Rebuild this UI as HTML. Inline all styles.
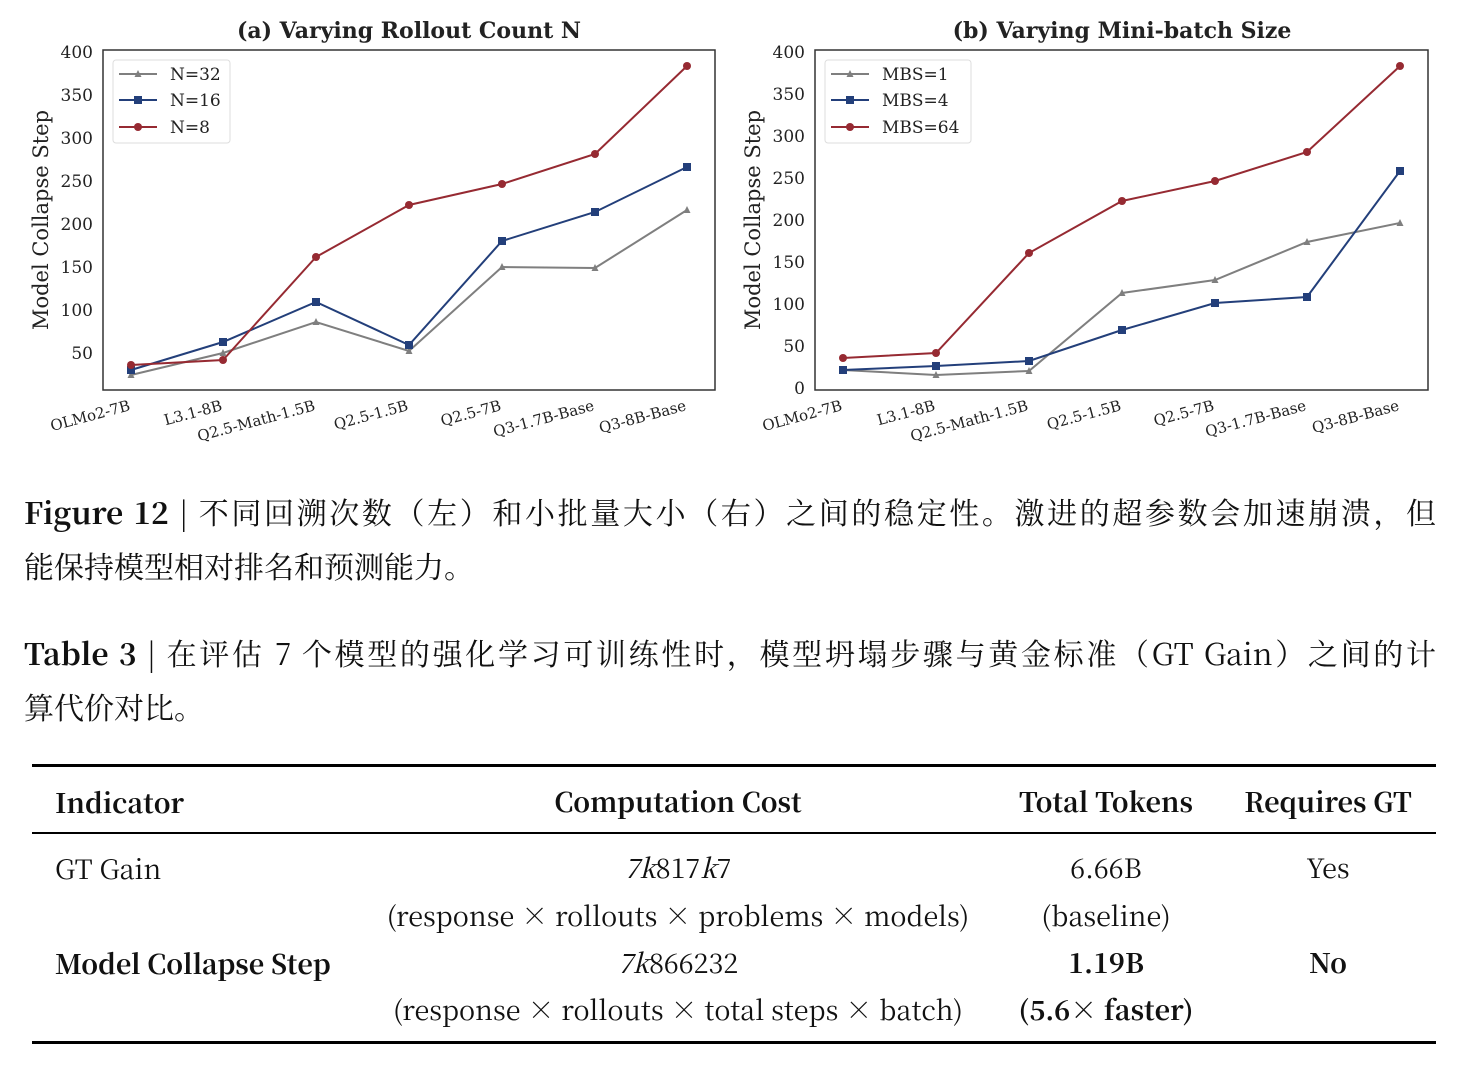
<!DOCTYPE html>
<html><head><meta charset="utf-8"><style>
body{margin:0;background:#fff;width:1472px;height:1068px;position:relative;overflow:hidden;font-family:"Noto Serif CJK SC","Liberation Serif",serif;color:#111}
.t{position:absolute;white-space:nowrap;font-size:30px;line-height:30px}
.j{position:absolute;left:24px;width:1412px;font-size:30px;line-height:30px;text-align:justify;text-align-last:justify;white-space:nowrap}
.c{position:absolute;white-space:nowrap;font-size:27px;line-height:28px;transform:translateX(-50%)}
.b{font-weight:bold}
.hr{position:absolute;left:32px;width:1404px;background:#000}
</style></head><body>
<svg width="1472" height="460" style="position:absolute;left:0;top:0" font-family="DejaVu Serif, serif">
<g font-size="17" fill="#222">
<text x="409" y="38" text-anchor="middle" font-weight="bold" font-size="22">(a) Varying Rollout Count N</text>
<text x="1122" y="38" text-anchor="middle" font-weight="bold" font-size="22">(b) Varying Mini-batch Size</text>
<rect x="103" y="50" width="612" height="340" fill="none" stroke="#333" stroke-width="1.5"/>
<rect x="815" y="50" width="613" height="340" fill="none" stroke="#333" stroke-width="1.5"/>
<g text-anchor="end">
<text x="93" y="58">400</text><text x="93" y="101">350</text><text x="93" y="144">300</text><text x="93" y="187">250</text><text x="93" y="230">200</text><text x="93" y="273">150</text><text x="93" y="316">100</text><text x="93" y="359">50</text>
<text x="805" y="58">400</text><text x="805" y="100">350</text><text x="805" y="142">300</text><text x="805" y="184">250</text><text x="805" y="226">200</text><text x="805" y="268">150</text><text x="805" y="310">100</text><text x="805" y="352">50</text><text x="805" y="394">0</text>
</g>
<text transform="translate(48,220) rotate(-90)" text-anchor="middle" font-size="21">Model Collapse Step</text>
<text transform="translate(760,220) rotate(-90)" text-anchor="middle" font-size="21">Model Collapse Step</text>
<g text-anchor="end" font-size="15">
<text transform="translate(131,410) rotate(-15)">OLMo2-7B</text>
<text transform="translate(223,410) rotate(-15)">L3.1-8B</text>
<text transform="translate(316,410) rotate(-15)">Q2.5-Math-1.5B</text>
<text transform="translate(409,410) rotate(-15)">Q2.5-1.5B</text>
<text transform="translate(502,410) rotate(-15)">Q2.5-7B</text>
<text transform="translate(595,410) rotate(-15)">Q3-1.7B-Base</text>
<text transform="translate(687,410) rotate(-15)">Q3-8B-Base</text>
<text transform="translate(843,410) rotate(-15)">OLMo2-7B</text>
<text transform="translate(936,410) rotate(-15)">L3.1-8B</text>
<text transform="translate(1029,410) rotate(-15)">Q2.5-Math-1.5B</text>
<text transform="translate(1122,410) rotate(-15)">Q2.5-1.5B</text>
<text transform="translate(1215,410) rotate(-15)">Q2.5-7B</text>
<text transform="translate(1307,410) rotate(-15)">Q3-1.7B-Base</text>
<text transform="translate(1400,410) rotate(-15)">Q3-8B-Base</text>
</g>
</g>
<g fill="none" stroke-width="2">
<polyline stroke="#7f7f7f" points="131,375 223,353 316,322 409,351 502,267 595,268 687,210"/>
<polyline stroke="#233f7a" points="131,370 223,342 316,302 409,345 502,241 595,212 687,167"/>
<polyline stroke="#962a32" points="131,365 223,360 316,257 409,205 502,184 595,154 687,66"/>
<polyline stroke="#7f7f7f" points="843,370 936,375 1029,371 1122,293 1215,280 1307,242 1400,223"/>
<polyline stroke="#233f7a" points="843,370 936,366 1029,361 1122,330 1215,303 1307,297 1400,171"/>
<polyline stroke="#962a32" points="843,358 936,353 1029,253 1122,201 1215,181 1307,152 1400,66"/>
</g>
<defs>
<path id="tri" d="M0,-4 L3.5,3 L-3.5,3Z" fill="#7f7f7f"/>
<rect id="sq" x="-4" y="-4" width="8" height="8" fill="#233f7a"/>
<circle id="ci" r="4" fill="#962a32"/>
</defs>
<g>
<use href="#tri" x="131" y="375"/><use href="#tri" x="223" y="353"/><use href="#tri" x="316" y="322"/><use href="#tri" x="409" y="351"/><use href="#tri" x="502" y="267"/><use href="#tri" x="595" y="268"/><use href="#tri" x="687" y="210"/>
<use href="#sq" x="131" y="370"/><use href="#sq" x="223" y="342"/><use href="#sq" x="316" y="302"/><use href="#sq" x="409" y="345"/><use href="#sq" x="502" y="241"/><use href="#sq" x="595" y="212"/><use href="#sq" x="687" y="167"/>
<use href="#ci" x="131" y="365"/><use href="#ci" x="223" y="360"/><use href="#ci" x="316" y="257"/><use href="#ci" x="409" y="205"/><use href="#ci" x="502" y="184"/><use href="#ci" x="595" y="154"/><use href="#ci" x="687" y="66"/>
<use href="#tri" x="843" y="370"/><use href="#tri" x="936" y="375"/><use href="#tri" x="1029" y="371"/><use href="#tri" x="1122" y="293"/><use href="#tri" x="1215" y="280"/><use href="#tri" x="1307" y="242"/><use href="#tri" x="1400" y="223"/>
<use href="#sq" x="843" y="370"/><use href="#sq" x="936" y="366"/><use href="#sq" x="1029" y="361"/><use href="#sq" x="1122" y="330"/><use href="#sq" x="1215" y="303"/><use href="#sq" x="1307" y="297"/><use href="#sq" x="1400" y="171"/>
<use href="#ci" x="843" y="358"/><use href="#ci" x="936" y="353"/><use href="#ci" x="1029" y="253"/><use href="#ci" x="1122" y="201"/><use href="#ci" x="1215" y="181"/><use href="#ci" x="1307" y="152"/><use href="#ci" x="1400" y="66"/>
</g>
<g font-size="17" fill="#222">
<rect x="113" y="60" width="117" height="83" fill="#fff" stroke="#ddd" rx="3"/>
<line x1="119" y1="74" x2="157" y2="74" stroke="#7f7f7f" stroke-width="2"/><use href="#tri" x="138" y="74"/><text x="170" y="80">N=32</text>
<line x1="119" y1="100" x2="157" y2="100" stroke="#233f7a" stroke-width="2"/><use href="#sq" x="138" y="100"/><text x="170" y="106">N=16</text>
<line x1="119" y1="127" x2="157" y2="127" stroke="#962a32" stroke-width="2"/><use href="#ci" x="138" y="127"/><text x="170" y="133">N=8</text>
<rect x="825" y="60" width="146" height="83" fill="#fff" stroke="#ddd" rx="3"/>
<line x1="831" y1="74" x2="869" y2="74" stroke="#7f7f7f" stroke-width="2"/><use href="#tri" x="850" y="74"/><text x="882" y="80">MBS=1</text>
<line x1="831" y1="100" x2="869" y2="100" stroke="#233f7a" stroke-width="2"/><use href="#sq" x="850" y="100"/><text x="882" y="106">MBS=4</text>
<line x1="831" y1="127" x2="869" y2="127" stroke="#962a32" stroke-width="2"/><use href="#ci" x="850" y="127"/><text x="882" y="133">MBS=64</text>
</g>
</svg>
<div class="j" style="top:496px"><b>Figure 12</b> | 不同回溯次数（左）和小批量大小（右）之间的稳定性。激进的超参数会加速崩溃，但</div>
<div class="t" style="left:24px;top:550px">能保持模型相对排名和预测能力。</div>
<div class="j" style="top:637px"><b>Table 3</b> | 在评估 7 个模型的强化学习可训练性时，模型坍塌步骤与黄金标准（GT Gain）之间的计</div>
<div class="t" style="left:24px;top:691px">算代价对比。</div>
<div class="hr" style="top:764px;height:3px"></div>
<div class="hr" style="top:832px;height:2px"></div>
<div class="hr" style="top:1041px;height:3px"></div>
<div class="t b" style="left:55px;top:787px;font-size:27px">Indicator</div>
<div class="c b" style="left:678px;top:787px">Computation Cost</div>
<div class="c b" style="left:1106px;top:787px">Total Tokens</div>
<div class="c b" style="left:1328px;top:787px">Requires GT</div>
<div class="t" style="left:55px;top:853px;font-size:27px">GT Gain</div>
<div class="c" style="left:678px;top:853px"><i>7k</i>817<i>k</i>7</div>
<div class="c" style="left:1106px;top:853px">6.66B</div>
<div class="c" style="left:1328px;top:853px">Yes</div>
<div class="c" style="left:678px;top:901px">(response × rollouts × problems × models)</div>
<div class="c" style="left:1106px;top:901px">(baseline)</div>
<div class="t b" style="left:55px;top:948px;font-size:27px">Model Collapse Step</div>
<div class="c" style="left:678px;top:948px"><i>7k</i>866232</div>
<div class="c b" style="left:1106px;top:948px">1.19B</div>
<div class="c b" style="left:1328px;top:948px">No</div>
<div class="c" style="left:678px;top:995px">(response × rollouts × total steps × batch)</div>
<div class="c b" style="left:1106px;top:995px">(5.6× faster)</div>
</body></html>
